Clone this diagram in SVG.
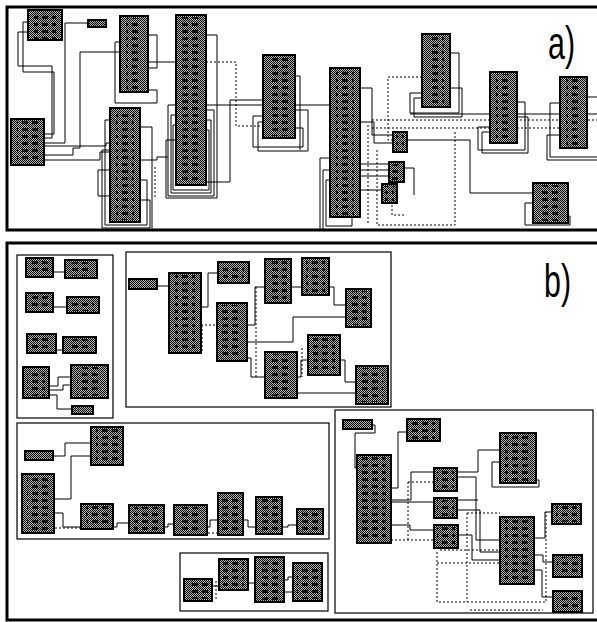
<svg xmlns="http://www.w3.org/2000/svg" width="597" height="622" viewBox="0 0 597 622">
<defs>
<pattern id="ht" patternUnits="userSpaceOnUse" width="2" height="2"><rect width="2" height="2" fill="#b4b4b4"/><rect width="1" height="1" fill="#000"/><rect x="1" y="1" width="1" height="1" fill="#000"/></pattern>
<pattern id="ic" patternUnits="userSpaceOnUse" width="10" height="7"><rect x="2" y="2" width="6" height="3" fill="#000"/></pattern>
</defs>
<style>
.box{fill:url(#ht);stroke:#000;stroke-width:2;shape-rendering:crispEdges}
.ic{fill:url(#ic);opacity:0.85}
.frame{fill:none;stroke:#000;stroke-width:3}
.sub{fill:none;stroke:#000;stroke-width:1.2}
.c{fill:none;stroke:#000;stroke-width:1}
.d{fill:none;stroke:#000;stroke-width:1;stroke-dasharray:2 2}
.lbl{font-family:"Liberation Sans",Arial,sans-serif;font-size:46px;fill:#000}
</style>
<rect width="597" height="622" fill="#fff"/>
<g id="frames">
<rect class="frame" x="7" y="7" width="600" height="223"/>
<rect class="frame" x="7" y="243" width="600" height="377"/>
<rect class="sub" x="17" y="255" width="96" height="163"/>
<rect class="sub" x="126" y="252" width="265" height="155"/>
<rect class="sub" x="17" y="423" width="312" height="116"/>
<rect class="sub" x="180" y="553" width="148" height="58"/>
<rect class="sub" x="335" y="410" width="258" height="203"/>
</g>
<g id="connectors">
<path class="c" d="M30,22 H23 V72 H54 V134 H44"/>
<path class="c" d="M30,32 H18 V66 H52 V138 H44"/>
<path class="c" d="M88,23 H65 V143 H44"/>
<path class="c" d="M44,155 H73 V148 H80 V52 H120"/>
<path class="c" d="M44,160 H100 V152 H110"/>
<path class="c" d="M44,146 H106 V143 H110"/>
<path class="c" d="M148,35 H157 V68 H148"/>
<path class="c" d="M120,42 H115 V103 H157 V90 H148"/>
<path class="c" d="M148,62 H176"/>
<path class="c" d="M176,105 H168 V196 H214 V110 H206"/>
<path class="c" d="M176,115 H171 V193 H211 V120 H206"/>
<path class="c" d="M176,125 H173 V190 H209 V130 H206"/>
<path class="c" d="M176,140 H166 V198 H217 V35 H206"/>
<path class="c" d="M206,182 H230 V100 H263"/>
<path class="c" d="M206,105 H330"/>
<path class="d" d="M206,62 H236 V126 H263"/>
<path class="d" d="M155,167 V197"/>
<path class="c" d="M140,160 H157 V157 H168"/>
<path class="c" d="M110,120 H105 V225 H147 V180 H140"/>
<path class="c" d="M110,150 H102 V228 H150 V200 H140"/>
<path class="c" d="M110,170 H98 V196 H110"/>
<path class="c" d="M140,127 H152 V229"/>
<path class="c" d="M263,116 H253 V147 H303 V128 H295"/>
<path class="c" d="M263,122 H258 V151 H308 V110 H295"/>
<path class="c" d="M295,76 H300 V150"/>
<path class="c" d="M360,88 H372 V135 H393"/>
<path class="c" d="M360,122 H374 V143 H393"/>
<path class="c" d="M360,164 H389"/>
<path class="c" d="M360,170 H389"/>
<path class="c" d="M360,176 H389"/>
<path class="c" d="M360,190 H382"/>
<path class="c" d="M404,168 H414 V195"/>
<path class="c" d="M407,140 H470 V193 H533"/>
<path class="c" d="M330,158 H320 V229"/>
<path class="c" d="M330,170 H323 V229"/>
<path class="c" d="M330,180 H326 V226 H352 V212 H360"/>
<path class="d" d="M422,77 H388 V140 H393"/>
<path class="c" d="M450,53 H459 V113 H410 V93 H422"/>
<path class="c" d="M450,88 H462 V117 H414 V98 H422"/>
<path class="c" d="M410,114 H597"/>
<path class="d" d="M372,120 H597"/>
<path class="d" d="M372,128 H490"/>
<path class="d" d="M517,128 H560"/>
<path class="c" d="M490,127 H478 V150 H525 V102 H517"/>
<path class="c" d="M490,132 H482 V153 H528 V117 H517"/>
<path class="c" d="M560,103 H550 V157 H597"/>
<path class="c" d="M560,135 H547 V160 H597"/>
<path class="c" d="M587,97 H597"/>
<path class="c" d="M533,203 H525 V225 H570 V216 H568"/>
<path class="d" d="M368,125 V225"/>
<path class="d" d="M377,150 V225 H455 V132"/>
<path class="d" d="M392,205 V215 H405"/>
<path class="c" d="M53,272 H65"/>
<path class="c" d="M53,307 H67"/>
<path class="c" d="M56,350 H63"/>
<path class="c" d="M49,386 H58 V377 H71"/>
<path class="c" d="M49,390 H63 V385 H71"/>
<path class="c" d="M49,395 H57 V409 H72"/>
<path class="c" d="M157,286 H169"/>
<path class="c" d="M201,307 H208 V273 H218"/>
<path class="d" d="M201,325 H217"/>
<path class="d" d="M202,325 V353"/>
<path class="c" d="M247,325 H255 V287 H265"/>
<path class="d" d="M256,287 V377"/>
<path class="c" d="M291,287 H302"/>
<path class="c" d="M247,342 H293 V317 H346"/>
<path class="c" d="M329,287 H334 V305 H346"/>
<path class="c" d="M247,358 H251 V377 H265"/>
<path class="c" d="M297,377 H301 V360 H308"/>
<path class="d" d="M302,348 V377"/>
<path class="c" d="M297,393 H356"/>
<path class="c" d="M340,360 H345 V382 H356"/>
<path class="c" d="M53,456 H65 V443 H91"/>
<path class="c" d="M54,499 H71 V456 H91"/>
<path class="c" d="M54,513 H63 V527 H81"/>
<path class="d" d="M55,528 H81"/>
<path class="c" d="M113,527 H117 V523 H129"/>
<path class="c" d="M164,527 H168 V524 H174"/>
<path class="c" d="M207,527 H210 V520 H218"/>
<path class="d" d="M200,533 H218"/>
<path class="c" d="M243,520 H248 V527 H256"/>
<path class="c" d="M282,527 H288 V525 H297"/>
<path class="c" d="M212,586 H219"/>
<path class="d" d="M216,581 V600"/>
<path class="c" d="M248,583 H255"/>
<path class="c" d="M284,580 H288 V577 H293"/>
<path class="c" d="M284,592 H293"/>
<path class="c" d="M372,425 H375 V433 H355 V468 H357"/>
<path class="c" d="M391,488 H398 V432 H407"/>
<path class="c" d="M391,500 H411 V472 H434"/>
<path class="c" d="M391,502 H434"/>
<path class="c" d="M391,525 H410 V530 H434"/>
<path class="d" d="M391,540 H434"/>
<path class="d" d="M408,482 H434"/>
<path class="d" d="M408,482 V540"/>
<path class="c" d="M457,472 H478 V450 H500"/>
<path class="c" d="M457,477 H476 V540 H500"/>
<path class="c" d="M457,500 H478"/>
<path class="c" d="M457,510 H480 V552 H500"/>
<path class="c" d="M458,535 H472 V560 H500"/>
<path class="c" d="M500,462 H492 V487 H539 V480 H536"/>
<path class="c" d="M534,538 H545 V512 H552"/>
<path class="c" d="M534,555 H543 V562 H553"/>
<path class="c" d="M534,570 H542 V597 H553"/>
<path class="d" d="M437,552 V602 H546 V512"/>
<path class="d" d="M467,513 V602"/>
<path class="d" d="M467,513 H500"/>
<path class="d" d="M437,563 H500"/>
<path class="d" d="M440,550 H500"/>
<path class="d" d="M470,610 H543"/>
</g>
<g id="a1"><rect class="box" x="28" y="10" width="34" height="30"/><rect class="ic" x="34" y="12" width="22" height="27"/></g>
<g id="a2"><rect class="box" x="88" y="20" width="18" height="7"/></g>
<g id="a3"><rect class="box" x="120" y="16" width="28" height="76"/><rect class="ic" x="126" y="18" width="16" height="72"/></g>
<g id="a4"><rect class="box" x="176" y="15" width="30" height="170"/><rect class="ic" x="182" y="17" width="18" height="166"/></g>
<g id="a5"><rect class="box" x="263" y="55" width="32" height="83"/><rect class="ic" x="269" y="57" width="20" height="79"/></g>
<g id="a6"><rect class="box" x="11" y="119" width="33" height="46"/><rect class="ic" x="17" y="121" width="21" height="42"/></g>
<g id="a7"><rect class="box" x="110" y="108" width="30" height="114"/><rect class="ic" x="116" y="110" width="18" height="110"/></g>
<g id="a8"><rect class="box" x="330" y="68" width="30" height="149"/><rect class="ic" x="336" y="70" width="18" height="145"/></g>
<g id="a9"><rect class="box" x="422" y="34" width="28" height="73"/><rect class="ic" x="428" y="36" width="16" height="69"/></g>
<g id="a10"><rect class="box" x="490" y="72" width="27" height="71"/><rect class="ic" x="496" y="74" width="15" height="67"/></g>
<g id="a11"><rect class="box" x="560" y="77" width="27" height="71"/><rect class="ic" x="566" y="79" width="15" height="67"/></g>
<g id="a12"><rect class="box" x="393" y="132" width="14" height="20"/><rect class="ic" x="396" y="134" width="8" height="16"/></g>
<g id="a13"><rect class="box" x="389" y="162" width="15" height="20"/><rect class="ic" x="392" y="164" width="9" height="16"/></g>
<g id="a14"><rect class="box" x="382" y="184" width="15" height="19"/><rect class="ic" x="385" y="186" width="9" height="15"/></g>
<g id="a15"><rect class="box" x="533" y="183" width="35" height="40"/><rect class="ic" x="539" y="185" width="23" height="36"/></g>
<g id="b1"><rect class="box" x="26" y="258" width="27" height="19"/><rect class="ic" x="30" y="260" width="19" height="15"/></g>
<g id="b2"><rect class="box" x="65" y="260" width="32" height="18"/><rect class="ic" x="70" y="262" width="22" height="14"/></g>
<g id="b3"><rect class="box" x="26" y="293" width="27" height="19"/><rect class="ic" x="30" y="295" width="19" height="15"/></g>
<g id="b4"><rect class="box" x="67" y="297" width="32" height="16"/><rect class="ic" x="72" y="299" width="22" height="12"/></g>
<g id="b5"><rect class="box" x="27" y="334" width="29" height="19"/><rect class="ic" x="31" y="336" width="21" height="15"/></g>
<g id="b6"><rect class="box" x="63" y="337" width="33" height="16"/><rect class="ic" x="68" y="339" width="23" height="12"/></g>
<g id="b7"><rect class="box" x="23" y="367" width="26" height="31"/><rect class="ic" x="27" y="369" width="18" height="27"/></g>
<g id="b8"><rect class="box" x="71" y="365" width="37" height="33"/><rect class="ic" x="77" y="367" width="25" height="29"/></g>
<g id="b9"><rect class="box" x="72" y="406" width="21" height="8"/></g>
<g id="c1"><rect class="box" x="129" y="279" width="28" height="10"/></g>
<g id="c2"><rect class="box" x="169" y="273" width="32" height="80"/><rect class="ic" x="175" y="275" width="20" height="76"/></g>
<g id="c3"><rect class="box" x="218" y="262" width="31" height="21"/><rect class="ic" x="223" y="264" width="21" height="17"/></g>
<g id="c4"><rect class="box" x="217" y="303" width="30" height="58"/><rect class="ic" x="222" y="305" width="20" height="54"/></g>
<g id="c5"><rect class="box" x="265" y="259" width="26" height="44"/><rect class="ic" x="269" y="261" width="18" height="40"/></g>
<g id="c6"><rect class="box" x="265" y="352" width="32" height="46"/><rect class="ic" x="270" y="354" width="22" height="42"/></g>
<g id="c7"><rect class="box" x="302" y="258" width="27" height="37"/><rect class="ic" x="306" y="260" width="19" height="33"/></g>
<g id="c8"><rect class="box" x="346" y="289" width="25" height="38"/><rect class="ic" x="350" y="291" width="17" height="34"/></g>
<g id="c9"><rect class="box" x="308" y="335" width="32" height="40"/><rect class="ic" x="313" y="337" width="22" height="36"/></g>
<g id="c10"><rect class="box" x="356" y="366" width="32" height="38"/><rect class="ic" x="361" y="368" width="22" height="34"/></g>
<g id="d1"><rect class="box" x="25" y="451" width="28" height="9"/></g>
<g id="d2"><rect class="box" x="91" y="427" width="32" height="38"/><rect class="ic" x="96" y="429" width="22" height="34"/></g>
<g id="d3"><rect class="box" x="22" y="474" width="32" height="59"/><rect class="ic" x="27" y="476" width="22" height="55"/></g>
<g id="d4"><rect class="box" x="81" y="504" width="32" height="25"/><rect class="ic" x="86" y="506" width="22" height="21"/></g>
<g id="d5"><rect class="box" x="129" y="505" width="35" height="28"/><rect class="ic" x="134" y="507" width="25" height="24"/></g>
<g id="d6"><rect class="box" x="174" y="505" width="33" height="30"/><rect class="ic" x="179" y="507" width="23" height="26"/></g>
<g id="d7"><rect class="box" x="218" y="493" width="25" height="42"/><rect class="ic" x="222" y="495" width="17" height="38"/></g>
<g id="d8"><rect class="box" x="256" y="497" width="26" height="37"/><rect class="ic" x="260" y="499" width="18" height="33"/></g>
<g id="d9"><rect class="box" x="297" y="509" width="26" height="25"/><rect class="ic" x="301" y="511" width="18" height="21"/></g>
<g id="e1"><rect class="box" x="184" y="579" width="28" height="22"/><rect class="ic" x="188" y="581" width="20" height="18"/></g>
<g id="e2"><rect class="box" x="219" y="559" width="29" height="31"/><rect class="ic" x="223" y="561" width="21" height="27"/></g>
<g id="e3"><rect class="box" x="255" y="557" width="29" height="45"/><rect class="ic" x="259" y="559" width="21" height="41"/></g>
<g id="e4"><rect class="box" x="293" y="563" width="29" height="38"/><rect class="ic" x="297" y="565" width="21" height="34"/></g>
<g id="f1"><rect class="box" x="343" y="420" width="29" height="9"/></g>
<g id="f2"><rect class="box" x="407" y="419" width="33" height="22"/><rect class="ic" x="412" y="421" width="23" height="18"/></g>
<g id="f3"><rect class="box" x="357" y="455" width="34" height="88"/><rect class="ic" x="362" y="457" width="24" height="84"/></g>
<g id="f4"><rect class="box" x="434" y="468" width="23" height="23"/><rect class="ic" x="437" y="470" width="17" height="19"/></g>
<g id="f5"><rect class="box" x="434" y="498" width="23" height="20"/><rect class="ic" x="437" y="500" width="17" height="16"/></g>
<g id="f6"><rect class="box" x="434" y="525" width="24" height="23"/><rect class="ic" x="437" y="527" width="18" height="19"/></g>
<g id="f7"><rect class="box" x="500" y="433" width="36" height="50"/><rect class="ic" x="505" y="435" width="26" height="46"/></g>
<g id="f8"><rect class="box" x="500" y="517" width="34" height="67"/><rect class="ic" x="505" y="519" width="24" height="63"/></g>
<g id="f9"><rect class="box" x="552" y="504" width="29" height="20"/><rect class="ic" x="556" y="506" width="21" height="16"/></g>
<g id="f10"><rect class="box" x="553" y="555" width="29" height="22"/><rect class="ic" x="557" y="557" width="21" height="18"/></g>
<g id="f11"><rect class="box" x="553" y="591" width="29" height="21"/><rect class="ic" x="557" y="593" width="21" height="17"/></g>
<g id="labels">
<text class="lbl" transform="translate(548,59) scale(0.66,1)">a)</text>
<text class="lbl" transform="translate(544,297) scale(0.66,1)">b)</text>
</g>
</svg>
